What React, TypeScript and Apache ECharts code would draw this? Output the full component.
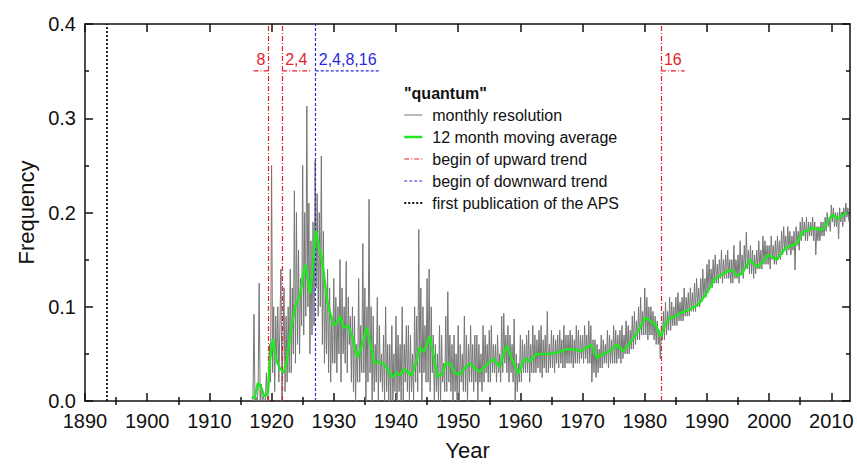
import React, { useEffect, useRef } from "react";
import * as echarts from "echarts";

// ---------- axis ticks ----------
const xMajorTicks = [1890, 1900, 1910, 1920, 1930, 1940, 1950, 1960, 1970, 1980, 1990, 2000, 2010];
const xMinorTicks = [1895, 1905, 1915, 1925, 1935, 1945, 1955, 1965, 1975, 1985, 1995, 2005];
const xMin = 1890;
const xMax = 2013;
const yMin = 0;
const yMax = 0.4;
const yInterval = 0.1;

// ---------- "quantum" frequency, six samples per year from 1917.0 ----------
const monthlyStart = 1917;
const monthlyStep = 1 / 6;
const monthlyValues = [
  0, 0.092, 0, 0.004, 0, 0.01, // 1917
  0.125, 0, 0.018, 0, 0.005, 0, // 1918
  0, 0.03, 0, 0.012, 0.06, 0.02, // 1919
  0.25, 0.03, 0.1, 0.01, 0.09, 0.04, // 1920
  0.1, 0.02, 0.08, 0.14, 0.0, 0.06, // 1921
  0.12, 0.01, 0.09, 0.02, 0.1, 0.03, // 1922
  0.14, 0.03, 0.12, 0.05, 0.223, 0.04, // 1923
  0.2, 0.06, 0.16, 0.05, 0.13, 0.08, // 1924
  0.25, 0.07, 0.2, 0.09, 0.313, 0.1, // 1925
  0.21, 0.05, 0.17, 0.07, 0.19, 0.08, // 1926
  0.255, 0.12, 0.22, 0.09, 0.2, 0.1, // 1927
  0.26, 0.06, 0.18, 0.04, 0.12, 0.05, // 1928
  0.14, 0.03, 0.12, 0.02, 0.09, 0.04, // 1929
  0.13, 0.04, 0.11, 0.03, 0.1, 0.05, // 1930
  0.15, 0.02, 0.12, 0.05, 0.1, 0.04, // 1931
  0.148, 0.03, 0.11, 0.06, 0.09, 0.02, // 1932
  0.1, 0.01, 0.09, 0.0, 0.06, 0.02, // 1933
  0.13, 0.02, 0.08, 0.03, 0.167, 0.03, // 1934
  0.12, 0.0, 0.1, 0.02, 0.214, 0.03, // 1935
  0.1, 0.0, 0.09, 0.01, 0.06, 0.02, // 1936
  0.11, 0.0, 0.08, 0.02, 0.05, 0.01, // 1937
  0.07, 0.0, 0.1, 0.01, 0.06, 0.0, // 1938
  0.06, 0.0, 0.08, 0.0, 0.05, 0.01, // 1939
  0.09, 0.0, 0.07, 0.01, 0.06, 0.0, // 1940
  0.1, 0.0, 0.06, 0.02, 0.08, 0.01, // 1941
  0.08, 0.0, 0.07, 0.01, 0.05, 0.0, // 1942
  0.1, 0.02, 0.09, 0.01, 0.182, 0.03, // 1943
  0.12, 0.0, 0.1, 0.03, 0.08, 0.02, // 1944
  0.13, 0.02, 0.14, 0.01, 0.1, 0.03, // 1945
  0.07, 0.0, 0.06, 0.01, 0.05, 0.0, // 1946
  0.08, 0.0, 0.07, 0.02, 0.04, 0.01, // 1947
  0.09, 0.01, 0.116, 0.02, 0.07, 0.01, // 1948
  0.06, 0.0, 0.07, 0.01, 0.05, 0.0, // 1949
  0.08, 0.0, 0.06, 0.02, 0.05, 0.01, // 1950
  0.09, 0.01, 0.07, 0.0, 0.06, 0.02, // 1951
  0.08, 0.02, 0.06, 0.01, 0.07, 0.02, // 1952
  0.07, 0.0, 0.06, 0.02, 0.05, 0.01, // 1953
  0.08, 0.02, 0.07, 0.03, 0.06, 0.02, // 1954
  0.075, 0.02, 0.08, 0.03, 0.06, 0.03, // 1955
  0.06, 0.02, 0.07, 0.03, 0.05, 0.02, // 1956
  0.09, 0.03, 0.093, 0.04, 0.07, 0.03, // 1957
  0.08, 0.02, 0.07, 0.03, 0.06, 0.02, // 1958
  0.087, 0.0, 0.05, 0.01, 0.04, 0.02, // 1959
  0.07, 0.02, 0.065, 0.03, 0.06, 0.03, // 1960
  0.07, 0.03, 0.075, 0.02, 0.06, 0.03, // 1961
  0.08, 0.03, 0.07, 0.03, 0.065, 0.035, // 1962
  0.075, 0.03, 0.08, 0.025, 0.065, 0.035, // 1963
  0.07, 0.03, 0.095, 0.03, 0.06, 0.035, // 1964
  0.075, 0.035, 0.07, 0.03, 0.065, 0.04, // 1965
  0.07, 0.035, 0.075, 0.04, 0.065, 0.035, // 1966
  0.08, 0.035, 0.07, 0.04, 0.07, 0.04, // 1967
  0.075, 0.04, 0.07, 0.035, 0.065, 0.04, // 1968
  0.08, 0.04, 0.075, 0.04, 0.07, 0.045, // 1969
  0.07, 0.04, 0.08, 0.045, 0.07, 0.04, // 1970
  0.085, 0.04, 0.08, 0.02, 0.065, 0.03, // 1971
  0.065, 0.025, 0.06, 0.03, 0.055, 0.035, // 1972
  0.07, 0.035, 0.065, 0.04, 0.06, 0.04, // 1973
  0.075, 0.035, 0.07, 0.04, 0.065, 0.04, // 1974
  0.08, 0.04, 0.075, 0.04, 0.07, 0.045, // 1975
  0.075, 0.04, 0.08, 0.045, 0.07, 0.05, // 1976
  0.085, 0.05, 0.08, 0.05, 0.075, 0.055, // 1977
  0.09, 0.055, 0.095, 0.06, 0.085, 0.065, // 1978
  0.1, 0.065, 0.11, 0.07, 0.095, 0.07, // 1979
  0.12, 0.07, 0.11, 0.065, 0.1, 0.07, // 1980
  0.1, 0.07, 0.095, 0.065, 0.09, 0.06, // 1981
  0.085, 0.06, 0.075, 0.045, 0.08, 0.065, // 1982
  0.095, 0.065, 0.105, 0.07, 0.095, 0.075, // 1983
  0.11, 0.075, 0.105, 0.08, 0.1, 0.08, // 1984
  0.11, 0.08, 0.115, 0.085, 0.105, 0.085, // 1985
  0.11, 0.085, 0.12, 0.09, 0.11, 0.09, // 1986
  0.115, 0.09, 0.12, 0.095, 0.115, 0.095, // 1987
  0.125, 0.095, 0.13, 0.1, 0.12, 0.1, // 1988
  0.13, 0.105, 0.14, 0.11, 0.13, 0.11, // 1989
  0.145, 0.115, 0.15, 0.12, 0.14, 0.12, // 1990
  0.15, 0.125, 0.155, 0.125, 0.145, 0.125, // 1991
  0.15, 0.13, 0.16, 0.125, 0.15, 0.13, // 1992
  0.155, 0.13, 0.16, 0.13, 0.15, 0.125, // 1993
  0.15, 0.125, 0.165, 0.13, 0.15, 0.13, // 1994
  0.155, 0.125, 0.17, 0.135, 0.155, 0.13, // 1995
  0.165, 0.14, 0.179, 0.14, 0.16, 0.135, // 1996
  0.165, 0.135, 0.16, 0.13, 0.155, 0.135, // 1997
  0.16, 0.14, 0.17, 0.14, 0.16, 0.14, // 1998
  0.175, 0.145, 0.17, 0.145, 0.165, 0.145, // 1999
  0.165, 0.14, 0.175, 0.15, 0.165, 0.145, // 2000
  0.17, 0.145, 0.175, 0.15, 0.17, 0.15, // 2001
  0.18, 0.155, 0.185, 0.16, 0.175, 0.155, // 2002
  0.185, 0.16, 0.18, 0.155, 0.175, 0.16, // 2003
  0.18, 0.139, 0.185, 0.165, 0.18, 0.16, // 2004
  0.19, 0.17, 0.195, 0.175, 0.19, 0.17, // 2005
  0.195, 0.17, 0.19, 0.175, 0.19, 0.175, // 2006
  0.195, 0.17, 0.19, 0.155, 0.185, 0.17, // 2007
  0.185, 0.17, 0.19, 0.175, 0.19, 0.175, // 2008
  0.195, 0.18, 0.2, 0.185, 0.195, 0.18, // 2009
  0.208, 0.19, 0.205, 0.185, 0.2, 0.185, // 2010
  0.2, 0.172, 0.205, 0.19, 0.2, 0.185, // 2011
  0.205, 0.19, 0.21, 0.195, 0.205, 0.19, // 2012
];

// ---------- 12 month moving average ----------
const avgYears = [
  1916.8, 1917.3, 1917.8, 1918.3, 1918.8, 1919.4, 1919.7, 1920.2, 1920.7, 1921.3,
  1922.0, 1922.5, 1923.0, 1923.8, 1924.6, 1925.4, 1926.2, 1926.6, 1927.1, 1927.6,
  1928.1, 1928.9, 1929.9, 1930.5, 1931.0, 1931.6, 1932.3, 1933.0, 1933.8, 1934.6,
  1935.3, 1935.9, 1936.5, 1937.3, 1938.2, 1938.8, 1939.4, 1940.0, 1940.6, 1941.3,
  1942.0, 1942.5, 1943.2, 1943.8, 1944.5, 1945.4, 1946.0, 1946.6, 1947.4, 1948.0,
  1948.7, 1949.4, 1950.3, 1951.1, 1951.9, 1952.6, 1953.5, 1954.5, 1955.6, 1956.7,
  1957.3, 1957.8, 1958.6, 1959.7, 1960.7, 1961.5, 1962.6, 1963.5, 1964.7, 1966.3,
  1967.4, 1968.4, 1969.6, 1970.5, 1971.4, 1972.3, 1973.3, 1974.4, 1975.5, 1976.5,
  1977.9, 1979.2, 1980.0, 1980.5, 1981.3, 1981.8, 1982.6, 1983.2, 1984.0, 1985.0,
  1985.6, 1986.4, 1987.2, 1988.0, 1988.8, 1989.9, 1990.6, 1991.2, 1992.6, 1993.4,
  1994.1, 1994.8, 1995.6, 1996.3, 1996.9, 1997.6, 1998.2, 1999.0, 1999.8, 2000.5,
  2001.2, 2002.0, 2002.8, 2003.6, 2004.4, 2005.4, 2006.2, 2007.0, 2007.8, 2008.6,
  2009.4, 2010.2, 2011.0, 2011.7, 2012.5,
];
const avgValues = [
  0.003, 0.004, 0.019, 0.015, 0.005, 0.008, 0.041, 0.066, 0.045, 0.035,
  0.03, 0.045, 0.072, 0.1, 0.114, 0.145, 0.114, 0.14, 0.181, 0.165,
  0.15, 0.108, 0.08, 0.083, 0.09, 0.078, 0.08, 0.068, 0.046, 0.06,
  0.078, 0.06, 0.04, 0.042, 0.038, 0.032, 0.025, 0.03, 0.027, 0.034,
  0.03, 0.027, 0.04, 0.057, 0.052, 0.069, 0.05, 0.026, 0.028, 0.04,
  0.04, 0.03, 0.028, 0.035, 0.04, 0.035, 0.031, 0.038, 0.045, 0.036,
  0.05, 0.059, 0.045, 0.029, 0.045, 0.042, 0.05, 0.05, 0.05, 0.052,
  0.055, 0.055, 0.053, 0.056, 0.06, 0.046, 0.05, 0.053, 0.06, 0.053,
  0.064, 0.077, 0.088, 0.087, 0.083, 0.08, 0.068, 0.08, 0.088, 0.09,
  0.093, 0.095, 0.097, 0.1, 0.104, 0.114, 0.122, 0.129, 0.135, 0.138,
  0.139, 0.133, 0.135, 0.143, 0.15, 0.145, 0.142, 0.148, 0.155, 0.153,
  0.15, 0.157, 0.163, 0.165, 0.167, 0.179, 0.181, 0.184, 0.182, 0.182,
  0.19, 0.198, 0.193, 0.197, 0.2,
];

// ---------- trend markers ----------
const upwardYears = [1919.5, 1921.7, 1982.6];
const downwardYears = [1927.1];
const apsYears = [1893.5];

const annotYears = [1919.5, 1921.7, 1927.1, 1982.6];
const annotTexts = ["8", "2,4", "2,4,8,16", "16"];
const annotSides = ["left", "right", "right", "right"];
const annotKinds = ["up", "up", "down", "up"];
const annotLevel = 0.354;

const legendNames = [
  "monthly resolution",
  "12 month moving average",
  "begin of upward trend",
  "begin of downward trend",
  "first publication of the APS",
];

const FONT = "'Liberation Sans', Arial, Helvetica, sans-serif";
const RED = "#e3232b";
const BLUE = "#2b2bd6";
const GREY = "#767676";
const GREEN = "#22e622";
const BLACK = "#111111";
const UP_DASH = [5, 2, 1, 2];
const DOWN_DASH = [3, 2];
const APS_DASH = [2, 2];

function measure(text: string, size: number): number {
  const c = document.createElement("canvas");
  const ctx = c.getContext("2d");
  if (!ctx) return text.length * size * 0.55;
  ctx.font = `${size}px 'Liberation Sans', Arial, sans-serif`;
  return ctx.measureText(text).width;
}

export default function App() {
  const ref = useRef<HTMLDivElement>(null);

  useEffect(() => {
    if (!ref.current) return;
    const chart = echarts.init(ref.current, null, { renderer: "svg" });

    const monthlyData = monthlyValues.map((v, i) => [monthlyStart + i * monthlyStep, v]);
    const avgData = avgYears.map((y, i) => [y, avgValues[i]]);
    const annotData = annotYears.map((y) => [y, annotLevel]);

    const axisLineStyle = { color: BLACK, width: 1.5 };
    const tickStyle = { color: BLACK, width: 1.5 };

    const baseX = {
      type: "value",
      min: xMin,
      max: xMax,
      splitLine: { show: false },
      minorTick: { show: false },
    };

    const legendStyles = [
      { color: GREY, width: 1, type: "solid" },
      { color: GREEN, width: 2.5, type: "solid" },
      { color: RED, width: 1.2, type: UP_DASH },
      { color: BLUE, width: 1.2, type: DOWN_DASH },
      { color: BLACK, width: 2, type: APS_DASH },
    ];

    const option: any = {
      animation: false,
      backgroundColor: "#ffffff",
      grid: { left: 85, right: 7, top: 24, bottom: 60, containLabel: false },
      title: {
        text: '"quantum"',
        left: 404,
        top: 85,
        textStyle: { fontFamily: FONT, fontSize: 16, fontWeight: "bold", color: BLACK },
        padding: 0,
      },
      legend: {
        data: legendNames.map((n, i) => ({
          name: n,
          itemStyle: { opacity: 0 },
          lineStyle: legendStyles[i],
        })),
        orient: "vertical",
        left: 403,
        top: 107,
        itemWidth: 18,
        itemHeight: 14,
        itemGap: 6,
        padding: 0,
        selectedMode: false,
        itemStyle: { opacity: 0 },
        textStyle: { fontFamily: FONT, fontSize: 16, color: BLACK, padding: [0, 0, 0, 5] },
      },
      xAxis: [
        {
          ...baseX,
          position: "bottom",
          name: "Year",
          nameLocation: "middle",
          nameGap: 38,
          nameTextStyle: { fontFamily: FONT, fontSize: 22, color: BLACK },
          axisLine: { show: true, onZero: false, lineStyle: axisLineStyle },
          axisTick: { show: true, inside: true, length: 8, customValues: xMajorTicks, lineStyle: tickStyle },
          axisLabel: {
            show: true,
            customValues: xMajorTicks,
            fontFamily: FONT,
            fontSize: 20,
            color: BLACK,
            margin: 10,
            formatter: (v: number) => String(v),
          },
        },
        {
          ...baseX,
          position: "bottom",
          axisLine: { show: false },
          axisTick: { show: true, inside: true, length: 4, customValues: xMinorTicks, lineStyle: tickStyle },
          axisLabel: { show: false },
        },
        {
          ...baseX,
          position: "top",
          axisLine: { show: true, onZero: false, lineStyle: axisLineStyle },
          axisTick: { show: true, inside: true, length: 8, customValues: xMajorTicks, lineStyle: tickStyle },
          axisLabel: { show: false },
        },
        {
          ...baseX,
          position: "top",
          axisLine: { show: false },
          axisTick: { show: true, inside: true, length: 4, customValues: xMinorTicks, lineStyle: tickStyle },
          axisLabel: { show: false },
        },
      ],
      yAxis: [
        {
          type: "value",
          position: "left",
          min: yMin,
          max: yMax,
          interval: yInterval,
          name: "Frequency",
          nameLocation: "middle",
          nameGap: 46,
          nameTextStyle: { fontFamily: FONT, fontSize: 22, color: BLACK },
          splitLine: { show: false },
          axisLine: { show: true, onZero: false, lineStyle: axisLineStyle },
          axisTick: { show: true, inside: true, length: 8, lineStyle: tickStyle },
          minorTick: { show: true, splitNumber: 2, length: 4, lineStyle: tickStyle },
          axisLabel: { fontFamily: FONT, fontSize: 20, color: BLACK, margin: 9, formatter: (v: number) => v.toFixed(1) },
        },
        {
          type: "value",
          position: "right",
          min: yMin,
          max: yMax,
          interval: yInterval,
          splitLine: { show: false },
          axisLine: { show: true, onZero: false, lineStyle: axisLineStyle },
          axisTick: { show: true, inside: true, length: 8, lineStyle: tickStyle },
          minorTick: { show: true, splitNumber: 2, length: 4, lineStyle: tickStyle },
          axisLabel: { show: false },
        },
      ],
      series: [
        {
          name: legendNames[0],
          type: "line",
          data: monthlyData,
          symbol: "none",
          showSymbol: false,
          lineStyle: { color: GREY, width: 1 },
          itemStyle: { color: GREY },
          z: 2,
        },
        {
          name: legendNames[1],
          type: "line",
          data: avgData,
          symbol: "none",
          showSymbol: false,
          lineStyle: { color: GREEN, width: 2.5 },
          itemStyle: { color: GREEN },
          z: 6,
        },
        {
          name: legendNames[2],
          type: "line",
          data: [],
          symbol: "none",
          lineStyle: { color: RED, width: 1.2, type: UP_DASH },
          itemStyle: { color: RED },
          markLine: {
            silent: true,
            symbol: ["none", "none"],
            label: { show: false },
            lineStyle: { color: RED, width: 1.2, type: UP_DASH },
            data: upwardYears.map((v) => ({ xAxis: v })),
          },
          z: 4,
        },
        {
          name: legendNames[3],
          type: "line",
          data: [],
          symbol: "none",
          lineStyle: { color: BLUE, width: 1.2, type: DOWN_DASH },
          itemStyle: { color: BLUE },
          markLine: {
            silent: true,
            symbol: ["none", "none"],
            label: { show: false },
            lineStyle: { color: BLUE, width: 1.2, type: DOWN_DASH },
            data: downwardYears.map((v) => ({ xAxis: v })),
          },
          z: 4,
        },
        {
          name: legendNames[4],
          type: "line",
          data: [],
          symbol: "none",
          lineStyle: { color: BLACK, width: 2, type: APS_DASH },
          itemStyle: { color: BLACK },
          markLine: {
            silent: true,
            symbol: ["none", "none"],
            label: { show: false },
            lineStyle: { color: BLACK, width: 1.8, type: APS_DASH },
            data: apsYears.map((v) => ({ xAxis: v })),
          },
          z: 4,
        },
        {
          type: "custom",
          silent: true,
          data: annotData,
          z: 7,
          renderItem: (params: any, api: any) => {
            const idx = params.dataIndex;
            const p = api.coord([api.value(0), api.value(1)]);
            const text = annotTexts[idx];
            const color = annotKinds[idx] === "up" ? RED : BLUE;
            const dash = annotKinds[idx] === "up" ? UP_DASH : DOWN_DASH;
            const w = measure(text, 16);
            const left = annotSides[idx] === "left";
            const textX = left ? p[0] - 3 : p[0] + 3;
            const x1 = left ? p[0] - w - 6 : p[0];
            const x2 = left ? p[0] : p[0] + w + 6;
            const uy = p[1] + 3.5;
            return {
              type: "group",
              children: [
                {
                  type: "text",
                  style: {
                    text,
                    x: textX,
                    y: p[1],
                    fill: color,
                    fontSize: 16,
                    fontFamily: FONT,
                    align: left ? "right" : "left",
                    verticalAlign: "bottom",
                  },
                },
                {
                  type: "line",
                  shape: { x1, y1: uy, x2, y2: uy },
                  style: { stroke: color, lineWidth: 1.2, lineDash: dash },
                },
              ],
            };
          },
        },
      ],
    };

    chart.setOption(option);
    return () => chart.dispose();
  }, []);

  return (
    <div
      ref={ref}
      style={{ position: "fixed", left: 0, top: 0, width: 857, height: 466, background: "#fff" }}
    />
  );
}
